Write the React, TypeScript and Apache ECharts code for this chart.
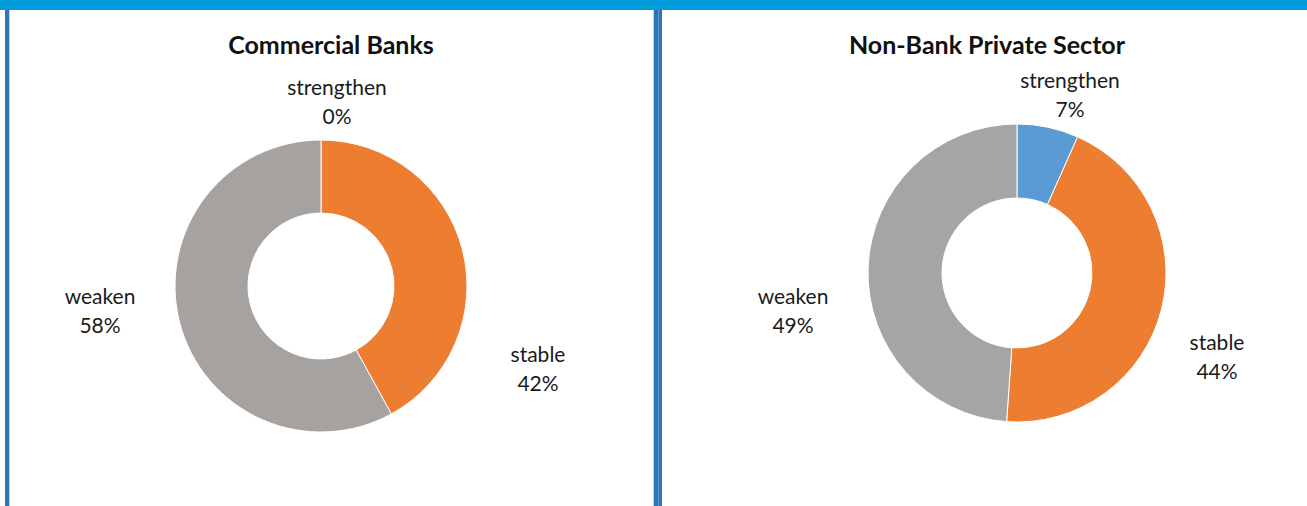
import React, { useEffect, useRef } from "react";
import * as echarts from "echarts";

const categories = ["strengthen", "stable", "weaken"];
const bankValues = [0, 42, 58];
const privateValues = [3, 20, 22];
const titles = ["Commercial Banks", "Non-Bank Private Sector"];

const FONT = "Lato, 'Open Sans', sans-serif";

// label anchor positions (layout only)
const labelPos = [
  [[337, 101], [538, 368], [100, 310]],
  [[1070, 94], [1217, 356], [793, 310]],
];

export default function App() {
  const ref = useRef<HTMLDivElement>(null);
  useEffect(() => {
    document.body.style.margin = "0";
    const chart = echarts.init(ref.current!, null, { renderer: "svg" });
    const mk = (values: number[], colors: string[]) =>
      categories.map((c, i) => ({ name: c, value: values[i], itemStyle: { color: colors[i] } }));
    const commonSeries = {
      type: "pie",
      startAngle: 90,
      clockwise: true,
      percentPrecision: 0,
      avoidLabelOverlap: false,
      itemStyle: { borderColor: "#ffffff", borderWidth: 1 },
      label: {
        show: true,
        position: "outside",
        formatter: "{b}\n{d}%",
        color: "#1a1a1a",
        fontFamily: FONT,
        fontSize: 21,
        lineHeight: 29,
        align: "center",
      },
      labelLine: { show: false },
      emphasis: { disabled: true },
    };
    const titleStyle = { fontFamily: FONT, fontWeight: "bold", fontSize: 25, color: "#111111" };
    chart.setOption({
      animation: false,
      backgroundColor: "#ffffff",
      title: [
        { text: titles[0], left: 331, top: 31, padding: 0, textAlign: "center", textStyle: titleStyle },
        { text: titles[1], left: 987, top: 31, padding: 0, textAlign: "center", textStyle: titleStyle },
      ],
      graphic: [
        { type: "rect", shape: { x: 0, y: 0, width: 1307, height: 10 }, style: { fill: "#009CDB" } },
        { type: "rect", shape: { x: 5, y: 10, width: 4, height: 496 }, style: { fill: "#2E75B6" } },
        { type: "rect", shape: { x: 9, y: 10, width: 1, height: 496 }, style: { fill: "#BDD7EE" } },
        { type: "rect", shape: { x: 653, y: 10, width: 1, height: 496 }, style: { fill: "#BDD7EE" } },
        { type: "rect", shape: { x: 654, y: 10, width: 8, height: 496 }, style: { fill: "#2E75B6" } },
        { type: "rect", shape: { x: 658, y: 10, width: 1, height: 496 }, style: { fill: "#5B9BD5" } },
      ],
      series: [
        {
          ...commonSeries,
          center: [321, 286],
          radius: [73, 146],
          data: mk(bankValues, ["#5B9BD5", "#ED7D31", "#A6A2A0"]),
          labelLayout: (p: any) => ({
            x: labelPos[0][p.dataIndex][0],
            y: labelPos[0][p.dataIndex][1],
            align: "center",
            verticalAlign: "middle",
          }),
        },
        {
          ...commonSeries,
          center: [1017, 273],
          radius: [75, 149],
          data: mk(privateValues, ["#5B9BD5", "#ED7D31", "#A5A5A5"]),
          labelLayout: (p: any) => ({
            x: labelPos[1][p.dataIndex][0],
            y: labelPos[1][p.dataIndex][1],
            align: "center",
            verticalAlign: "middle",
          }),
        },
      ],
    });
    return () => chart.dispose();
  }, []);
  return (
    <div
      ref={ref}
      style={{ position: "absolute", left: 0, top: 0, width: 1307, height: 506 }}
    />
  );
}
